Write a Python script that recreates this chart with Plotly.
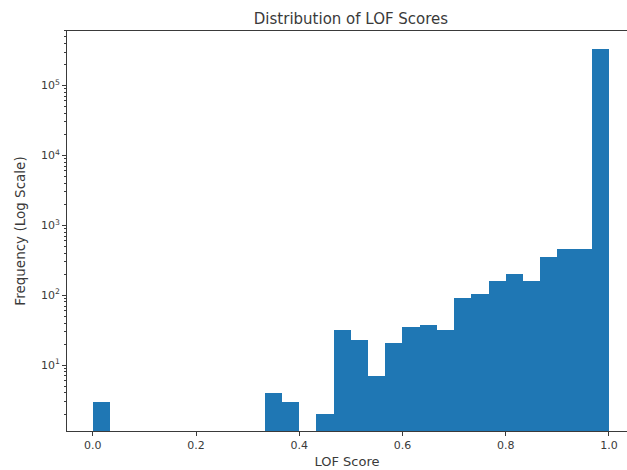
import numpy as np
import plotly.graph_objects as go

# Histogram of LOF scores: 30 equal-width bins on [0, 1]
n_bins = 30
bin_edges = np.linspace(0.0, 1.0, n_bins + 1)
counts = [3, 0, 0, 0, 0, 0, 0, 0, 0, 0,
          4, 3, 0, 2, 32, 23, 7, 21, 35, 38,
          32, 90, 104, 162, 200, 160, 357, 456, 456, 336000]

x_ticks = [0.0, 0.2, 0.4, 0.6, 0.8, 1.0]
x_tick_labels = ["0.0", "0.2", "0.4", "0.6", "0.8", "1.0"]
y_ticks = [10, 100, 1000, 10000, 100000]
y_tick_labels = ["10<sup>1</sup>", "10<sup>2</sup>", "10<sup>3</sup>",
                 "10<sup>4</sup>", "10<sup>5</sup>"]

centers = (bin_edges[:-1] + bin_edges[1:]) / 2
widths = np.diff(bin_edges)

# zero-count bins are left out (not drawable on a log axis)
mask = np.array(counts) > 0

fig = go.Figure(
    go.Bar(
        x=centers[mask],
        y=np.array(counts)[mask],
        width=widths[mask],
        marker=dict(color="#1f77b4", line=dict(width=0)),
        hoverinfo="x+y",
    )
)

font_family = "DejaVu Sans"
text_color = "#3a3a3a"

fig.update_layout(
    width=627,
    height=470,
    margin=dict(l=67, r=0, t=31, b=39),
    paper_bgcolor="white",
    plot_bgcolor="white",
    showlegend=False,
    bargap=0,
    font=dict(family=font_family, color=text_color, size=11),
    title=dict(
        text="Distribution of LOF Scores",
        x=351 / 627,
        xanchor="center",
        y=1 - 19 / 470,
        yanchor="middle",
        font=dict(size=15, family=font_family, color=text_color),
    ),
)

fig.update_xaxes(
    range=[-0.05, 1.035],
    tickvals=x_ticks,
    ticktext=x_tick_labels,
    ticks="outside",
    ticklen=4,
    tickcolor=text_color,
    showline=True,
    linecolor=text_color,
    linewidth=1,
    mirror=True,
    showgrid=False,
    zeroline=False,
    tickfont=dict(size=11),
    title=dict(text="LOF Score", font=dict(size=13), standoff=5),
)

fig.update_yaxes(
    type="log",
    range=[0.058, 5.778],
    tickvals=y_ticks,
    ticktext=y_tick_labels,
    ticks="outside",
    ticklen=4,
    tickcolor=text_color,
    minor=dict(ticks="outside", ticklen=2, tickcolor=text_color, dtick="D1", showgrid=False),
    showline=True,
    linecolor=text_color,
    linewidth=1,
    mirror=False,
    showgrid=False,
    zeroline=False,
    tickfont=dict(size=11),
    title=dict(text="Frequency (Log Scale)", font=dict(size=13.5), standoff=12),
)

fig.write_html("out.html")
